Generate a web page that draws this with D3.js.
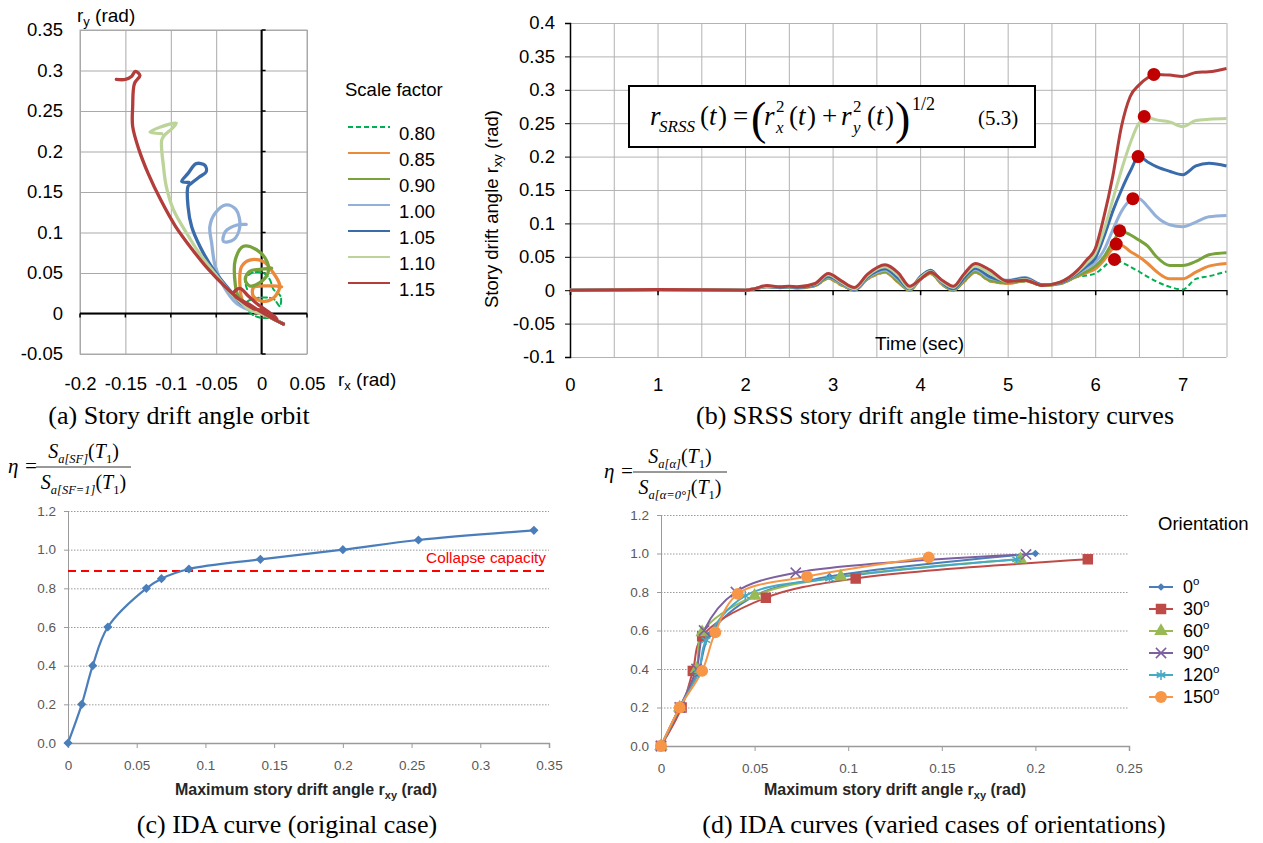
<!DOCTYPE html>
<html lang="en">
<head>
<meta charset="utf-8">
<title>Story drift angle - orbit, SRSS and IDA curves</title>
<script src="https://cdn.jsdelivr.net/npm/d3@7"></script>
<style>
body { margin: 0; background: #fff; }
text { font-family: "Liberation Sans", Arial, sans-serif; }
.serif { font-family: "Liberation Serif", "Times New Roman", serif; }
</style>
</head>
<body>
<script>
// ================= data =================
// (a) orbit, one series per scale factor
var scaleFactors = ["0.80", "0.85", "0.90", "1.00", "1.05", "1.10", "1.15"];
var sfColors = ["#00b050", "#ec8a3c", "#78a23c", "#93b1d8", "#3a6cab", "#bcd499", "#b23d3a"];
var orbitXTicks = [-0.2, -0.15, -0.1, -0.05, 0, 0.05];
var orbitYTicks = [-0.05, 0, 0.05, 0.1, 0.15, 0.2, 0.25, 0.3, 0.35];

var orbit080 = [[0.024,-0.013],[0.01,-0.006],[-0.002,-0.005],[-0.013,0.001],[-0.017,0.013],[-0.006,0.019],
  [0.013,0.018],[0.02,0.009],[0.021,0.021],[0.013,0.03],[0.009,0.042],[0.002,0.05],[-0.011,0.05],
  [-0.018,0.042],[-0.016,0.03]];
var orbit085 = [[0.024,-0.013],[0.008,-0.004],[-0.012,0.005],[-0.02,0.013],[-0.024,0.038],[-0.022,0.058],
  [-0.013,0.066],[0.002,0.064],[0.013,0.05],[0.02,0.034],[0.013,0.019],[0.002,0.015],[-0.009,0.021],
  [-0.009,0.032],[0.002,0.034],[0.013,0.034],[0.022,0.033]];
var orbit090 = [[0.024,-0.013],[0.005,-0.002],[-0.015,0.01],[-0.026,0.022],[-0.029,0.036],[-0.029,0.066],
  [-0.02,0.083],[-0.006,0.079],[0.006,0.064],[0.007,0.05],[-0.002,0.038],[-0.013,0.034],[-0.018,0.042],
  [-0.013,0.052],[0.002,0.055],[0.011,0.056]];
var orbit100 = [[0.024,-0.013],[0.005,-0.002],[-0.015,0.005],[-0.028,0.013],[-0.042,0.034],[-0.051,0.058],
  [-0.055,0.087],[-0.057,0.107],[-0.051,0.124],[-0.039,0.134],[-0.028,0.128],[-0.024,0.107],[-0.031,0.091],
  [-0.042,0.089],[-0.04,0.101],[-0.028,0.109],[-0.017,0.11]];
var orbit105 = [[0.024,-0.013],[0.005,-0.002],[-0.012,0.006],[-0.023,0.013],[-0.036,0.03],[-0.053,0.054],
  [-0.068,0.083],[-0.077,0.107],[-0.081,0.132],[-0.081,0.157],[-0.077,0.161],[-0.068,0.169],[-0.061,0.175],
  [-0.0625,0.183],[-0.072,0.185],[-0.081,0.173],[-0.088,0.163],[-0.08,0.162]];
var orbit110 = [[0.024,-0.013],[0.005,-0.002],[-0.012,0.004],[-0.022,0.013],[-0.035,0.027],[-0.052,0.05],
  [-0.069,0.075],[-0.083,0.1],[-0.097,0.128],[-0.105,0.157],[-0.108,0.181],[-0.11,0.214],[-0.107,0.22],
  [-0.099,0.228],[-0.094,0.235],[-0.112,0.23],[-0.123,0.224],[-0.11,0.222]];
var orbit115 = [[0.024,-0.013],[0.012,-0.006],[-0.002,0.003],[-0.015,0.012],[-0.028,0.02],[-0.031,0.025],
  [-0.024,0.031],[-0.015,0.022],[-0.005,0.012],[0.01,0.0],[0.017,-0.006],[0.005,0.003],[-0.009,0.006],
  [-0.024,0.017],[-0.04,0.033],[-0.059,0.055],[-0.077,0.08],[-0.095,0.108],[-0.111,0.14],[-0.125,0.173],
  [-0.135,0.202],[-0.142,0.231],[-0.142,0.255],[-0.14,0.284],[-0.134,0.294],[-0.139,0.299],[-0.143,0.293],
  [-0.15,0.289],[-0.16,0.289]];
var orbits = [orbit080, orbit085, orbit090, orbit100, orbit105, orbit110, orbit115];

// (b) SRSS time histories
var timeTicks = [0, 1, 2, 3, 4, 5, 6, 7];
var thYTicks = [-0.1, -0.05, 0, 0.05, 0.1, 0.15, 0.2, 0.25, 0.3, 0.35, 0.4];
var timeSec = [0, 1, 2, 2.1, 2.25, 2.4, 2.5, 2.6, 2.8, 2.95, 3.1, 3.25, 3.4, 3.6, 3.75, 3.88, 4.0, 4.12, 4.25,
  4.38, 4.5, 4.63, 4.8, 5.0, 5.2, 5.4, 5.6, 5.8, 5.9, 6.0, 6.1, 6.2, 6.3, 6.4, 6.5, 6.6, 6.7, 6.85, 7.0, 7.15, 7.3, 7.5];
var th080 = [0,0.001,0,0.002,0.005,0.003,0.004,0.003,0.006,0.017,0.007,0,0.016,0.026,0.011,0,0.015,0.024,0.008,0,
  0.012,0.026,0.013,0.01,0.013,0.007,0.009,0.02,0.022,0.025,0.035,0.046,0.042,0.035,0.028,0.02,0.013,0.005,0.001,0.017,0.021,0.028];
var th085 = [0,0.001,0,0.002,0.005,0.004,0.004,0.003,0.007,0.018,0.008,0,0.017,0.027,0.012,0,0.016,0.025,0.009,0,
  0.013,0.027,0.014,0.01,0.014,0.007,0.01,0.021,0.026,0.032,0.045,0.062,0.067,0.058,0.05,0.04,0.028,0.017,0.017,0.027,0.036,0.04];
var th090 = [0,0.001,0,0.002,0.005,0.004,0.004,0.004,0.007,0.019,0.009,0,0.018,0.028,0.013,0,0.017,0.026,0.01,0,
  0.014,0.028,0.015,0.011,0.015,0.007,0.01,0.022,0.028,0.036,0.05,0.072,0.088,0.083,0.075,0.066,0.05,0.037,0.037,0.043,0.053,0.056];
var th100 = [0,0.001,0,0.002,0.005,0.004,0.005,0.004,0.008,0.02,0.01,0.001,0.019,0.03,0.016,0.001,0.019,0.029,0.011,0.001,
  0.017,0.031,0.018,0.015,0.019,0.008,0.011,0.025,0.033,0.042,0.06,0.09,0.118,0.134,0.137,0.125,0.11,0.098,0.095,0.102,0.11,0.112];
var th105 = [0,0.001,0,0.002,0.006,0.004,0.005,0.004,0.008,0.021,0.011,0.001,0.02,0.032,0.018,0.002,0.02,0.03,0.012,0.002,
  0.018,0.033,0.02,0.014,0.018,0.008,0.011,0.026,0.036,0.048,0.08,0.118,0.15,0.178,0.2,0.192,0.185,0.178,0.173,0.186,0.19,0.186];
var th110 = [0,0.001,0,0.002,0.006,0.005,0.005,0.005,0.009,0.023,0.012,0.002,0.022,0.035,0.022,0.003,0.018,0.028,0.013,0.004,
  0.022,0.036,0.025,0.013,0.016,0.007,0.012,0.028,0.04,0.055,0.09,0.135,0.18,0.22,0.25,0.258,0.255,0.252,0.245,0.254,0.256,0.257];
var th115 = [0,0.001,0,0.002,0.007,0.005,0.006,0.005,0.01,0.025,0.014,0.004,0.024,0.038,0.026,0.006,0.016,0.027,0.015,0.006,
  0.024,0.04,0.03,0.013,0.015,0.007,0.012,0.03,0.045,0.062,0.11,0.17,0.245,0.29,0.307,0.318,0.323,0.322,0.32,0.326,0.327,0.332];
var thSeries = [th080, th085, th090, th100, th105, th110, th115];
var peakTime = [6.22, 6.24, 6.28, 6.43, 6.49, 6.56, 6.67];
var peakDrift = [0.046, 0.069, 0.089, 0.137, 0.2, 0.26, 0.323];

// (c) IDA, original case
var idaXTicks = [0, 0.05, 0.1, 0.15, 0.2, 0.25, 0.3, 0.35];
var etaTicks = [0, 0.2, 0.4, 0.6, 0.8, 1.0, 1.2];
var idaDrift = [0, 0.01, 0.018, 0.029, 0.057, 0.068, 0.088, 0.14, 0.2, 0.255, 0.339];
var idaEta = [0, 0.2, 0.4, 0.6, 0.8, 0.85, 0.9, 0.95, 1.0, 1.05, 1.1];
var collapseEta = 0.89;

// (d) IDA, orientations
var orientations = ["0", "30", "60", "90", "120", "150"];
var orientColors = ["#4a7ebb", "#be4b48", "#98b954", "#7d60a0", "#46aac5", "#f79646"];
var orientXTicks = [0, 0.05, 0.1, 0.15, 0.2, 0.25];
var drift000 = [0, 0.01, 0.02, 0.026, 0.05, 0.09, 0.2];
var drift030 = [0, 0.011, 0.017, 0.022, 0.056, 0.104, 0.228];
var drift060 = [0, 0.01, 0.019, 0.022, 0.05, 0.096, 0.192];
var drift090 = [0, 0.01, 0.019, 0.023, 0.04, 0.072, 0.195];
var drift120 = [0, 0.01, 0.02, 0.024, 0.045, 0.09, 0.19];
var drift150 = [0, 0.01, 0.022, 0.029, 0.041, 0.078, 0.143];
var eta000 = [0, 0.2, 0.39, 0.58, 0.78, 0.88, 1.0];
var eta030 = [0, 0.2, 0.39, 0.57, 0.77, 0.87, 0.97];
var eta060 = [0, 0.2, 0.4, 0.59, 0.78, 0.88, 0.97];
var eta090 = [0, 0.2, 0.4, 0.6, 0.8, 0.9, 0.995];
var eta120 = [0, 0.2, 0.38, 0.55, 0.78, 0.87, 0.97];
var eta150 = [0, 0.2, 0.39, 0.59, 0.79, 0.88, 0.98];
var orientDrift = [drift000, drift030, drift060, drift090, drift120, drift150];
var orientEtaSeries = [eta000, eta030, eta060, eta090, eta120, eta150];

// ================= drawing =================
var svg = d3.select("body").append("svg").attr("width", 1263).attr("height", 843);
var fmt2 = function(d) { return String(+d.toFixed(2)); };

function styleAxisText(g, size, color) {
  g.attr("font-family", null).attr("font-size", null);
  g.selectAll("text").attr("font-size", size).attr("fill", color);
}

// ----- (a) orbit -----
var ax = d3.scaleLinear().domain([-0.2, 0.05]).range([80, 307]);
var ay = d3.scaleLinear().domain([-0.05, 0.35]).range([354, 30]);
var gA = svg.append("g");

gA.append("g").attr("transform", "translate(0,354)")
  .call(d3.axisBottom(ax).tickValues(orbitXTicks).tickSize(-324).tickFormat(""))
  .call(function(g) { g.select(".domain").remove(); g.selectAll("line").attr("stroke", "#a9a9a9"); });
gA.append("g").attr("transform", "translate(80,0)")
  .call(d3.axisLeft(ay).tickValues(orbitYTicks).tickSize(-227).tickFormat(""))
  .call(function(g) { g.select(".domain").remove(); g.selectAll("line").attr("stroke", "#a9a9a9"); });
gA.append("rect").attr("x", 80).attr("y", 30).attr("width", 227).attr("height", 324)
  .attr("fill", "none").attr("stroke", "#a9a9a9");

gA.append("g").attr("transform", "translate(80,0)")
  .call(d3.axisLeft(ay).tickValues(orbitYTicks).tickSize(0).tickPadding(17).tickFormat(fmt2))
  .call(function(g) { g.select(".domain").remove(); styleAxisText(g, 18.5, "#000"); });
gA.append("g").attr("transform", "translate(0,354)")
  .call(d3.axisBottom(ax).tickValues(orbitXTicks).tickSize(0).tickPadding(23).tickFormat(fmt2))
  .call(function(g) { g.select(".domain").remove(); styleAxisText(g, 18.5, "#000"); });

// zero axes
gA.append("line").attr("x1", ax(0)).attr("x2", ax(0)).attr("y1", 30).attr("y2", 354)
  .attr("stroke", "#000").attr("stroke-width", 2);
gA.append("line").attr("x1", 80).attr("x2", 307).attr("y1", ay(0)).attr("y2", ay(0))
  .attr("stroke", "#000").attr("stroke-width", 2);
gA.append("g").selectAll("line").data(orbitYTicks).enter().append("line")
  .attr("x1", ax(0)).attr("x2", ax(0) + 4).attr("y1", function(d) { return ay(d); })
  .attr("y2", function(d) { return ay(d); }).attr("stroke", "#000").attr("stroke-width", 1.5);
gA.append("g").selectAll("line").data(orbitXTicks).enter().append("line")
  .attr("x1", function(d) { return ax(d); }).attr("x2", function(d) { return ax(d); })
  .attr("y1", ay(0)).attr("y2", ay(0) + 4).attr("stroke", "#000").attr("stroke-width", 1.5);

var orbitLine = d3.line().x(function(d) { return ax(d[0]); }).y(function(d) { return ay(d[1]); })
  .curve(d3.curveCatmullRom.alpha(0.5));
gA.append("g").selectAll("path").data(orbits).enter().append("path")
  .attr("d", orbitLine).attr("fill", "none")
  .attr("stroke", function(d, i) { return sfColors[i]; })
  .attr("stroke-width", function(d, i) { return i === 0 ? 2 : 3.3; })
  .attr("stroke-dasharray", function(d, i) { return i === 0 ? "5,3" : null; })
  .attr("stroke-linejoin", "round").attr("stroke-linecap", "round");

var ryLab = gA.append("text").attr("x", 77).attr("y", 22).attr("font-size", 19).text("r");
ryLab.append("tspan").attr("font-size", 13).attr("dy", 4).text("y");
ryLab.append("tspan").attr("dy", -4).text(" (rad)");
var rxLab = gA.append("text").attr("x", 338).attr("y", 386).attr("font-size", 19).text("r");
rxLab.append("tspan").attr("font-size", 13).attr("dy", 4).text("x");
rxLab.append("tspan").attr("dy", -4).text(" (rad)");

// legend (a)
gA.append("text").attr("x", 345).attr("y", 96).attr("font-size", 18.5).text("Scale factor");
var legA = gA.append("g").selectAll("g").data(scaleFactors).enter().append("g")
  .attr("transform", function(d, i) { return "translate(0," + (127 + i * 26) + ")"; });
legA.append("line").attr("x1", 348).attr("x2", 390)
  .attr("stroke", function(d, i) { return sfColors[i]; }).attr("stroke-width", 2)
  .attr("stroke-dasharray", function(d, i) { return i === 0 ? "5,3" : null; });
legA.append("text").attr("x", 399).attr("y", 13).attr("font-size", 18.5).text(function(d) { return d; });

gA.append("text").attr("class", "serif").attr("x", 179).attr("y", 424).attr("font-size", 26)
  .attr("text-anchor", "middle").text("(a) Story drift angle orbit");

// ----- (b) SRSS time history -----
var bx = d3.scaleLinear().domain([0, 7.5]).range([570, 1226.5]);
var by = d3.scaleLinear().domain([-0.1, 0.4]).range([357, 23]);
var gB = svg.append("g");
var halfSec = d3.range(0, 7.51, 0.5);

gB.append("g").attr("transform", "translate(0,357)")
  .call(d3.axisBottom(bx).tickValues(halfSec).tickSize(-334).tickFormat(""))
  .call(function(g) { g.select(".domain").remove(); g.selectAll("line").attr("stroke", "#b3b3b3"); });
gB.append("g").attr("transform", "translate(570,0)")
  .call(d3.axisLeft(by).tickValues(thYTicks).tickSize(-656.5).tickFormat(""))
  .call(function(g) { g.select(".domain").remove(); g.selectAll("line").attr("stroke", "#b3b3b3"); });

gB.append("g").attr("transform", "translate(570,0)")
  .call(d3.axisLeft(by).tickValues(thYTicks).tickSize(5).tickPadding(10).tickFormat(fmt2))
  .call(function(g) {
    g.select(".domain").attr("stroke", "#000").attr("stroke-width", 1.5);
    g.selectAll("line").attr("stroke", "#000");
    styleAxisText(g, 18.5, "#000");
  });
gB.append("g").attr("transform", "translate(0," + by(0) + ")")
  .call(d3.axisBottom(bx).tickValues(timeTicks).tickSize(5).tickFormat(""))
  .call(function(g) {
    g.select(".domain").attr("stroke", "#000").attr("stroke-width", 1.2);
    g.selectAll("line").attr("stroke", "#000").attr("stroke-width", 1.5);
  });
gB.append("g").attr("transform", "translate(0,357)")
  .call(d3.axisBottom(bx).tickValues(timeTicks).tickSize(0).tickPadding(21).tickFormat(d3.format("d")))
  .call(function(g) { g.select(".domain").remove(); styleAxisText(g, 18.5, "#000"); });

var thLine = d3.line().x(function(d, i) { return bx(timeSec[i]); }).y(function(d) { return by(d); })
  .curve(d3.curveMonotoneX);
gB.append("g").selectAll("path").data(thSeries).enter().append("path")
  .attr("d", thLine).attr("fill", "none")
  .attr("stroke", function(d, i) { return sfColors[i]; })
  .attr("stroke-width", function(d, i) { return i === 0 ? 2 : 3; })
  .attr("stroke-dasharray", function(d, i) { return i === 0 ? "5,3" : null; });
gB.append("g").selectAll("circle").data(peakTime).enter().append("circle")
  .attr("cx", function(d) { return bx(d); })
  .attr("cy", function(d, i) { return by(peakDrift[i]); })
  .attr("r", 6.5).attr("fill", "#c00000");

var yTitleB = gB.append("text").attr("transform", "translate(498,209) rotate(-90)")
  .attr("text-anchor", "middle").attr("font-size", 18.5).text("Story drift angle r");
yTitleB.append("tspan").attr("font-size", 13).attr("dy", 4).text("xy");
yTitleB.append("tspan").attr("dy", -4).text(" (rad)");
gB.append("text").attr("x", 875).attr("y", 350).attr("font-size", 19).text("Time (sec)");

// equation box
gB.append("rect").attr("x", 629).attr("y", 86).attr("width", 406).attr("height", 61)
  .attr("fill", "#fff").attr("stroke", "#000").attr("stroke-width", 2);
var eqParts = [
  ["r", 650, 125, 27, true], ["SRSS", 659, 132, 17, true], ["(", 700, 125, 27, false], ["t", 709, 125, 27, true],
  [")", 718, 125, 27, false], ["=", 733, 125, 27, false], ["(", 751, 134, 46, false], ["r", 764, 125, 27, true],
  ["2", 776, 112, 17, false], ["x", 776, 133, 17, true], ["(", 789, 125, 27, false], ["t", 798, 125, 27, true],
  [")", 807, 125, 27, false], ["+", 822, 125, 27, false], ["r", 841, 125, 27, true], ["2", 853, 112, 17, false],
  ["y", 853, 133, 17, true], ["(", 867, 125, 27, false], ["t", 876, 125, 27, true], [")", 885, 125, 27, false],
  [")", 895, 134, 46, false], ["1/2", 912, 110, 18, false], ["(5.3)", 978, 125, 21, false]
];
gB.append("g").selectAll("text").data(eqParts).enter().append("text")
  .attr("class", "serif")
  .attr("x", function(d) { return d[1]; }).attr("y", function(d) { return d[2]; })
  .attr("font-size", function(d) { return d[3]; })
  .attr("font-style", function(d) { return d[4] ? "italic" : "normal"; })
  .text(function(d) { return d[0]; });

gB.append("text").attr("class", "serif").attr("x", 935).attr("y", 424).attr("font-size", 26)
  .attr("text-anchor", "middle").text("(b) SRSS story drift angle time-history curves");

// ----- shared Excel-style IDA frame -----
function idaFrame(g, xs, ys, xTicks) {
  var x0 = xs.range()[0], x1 = xs.range()[1], y0 = ys.range()[0];
  g.append("g").attr("transform", "translate(" + x0 + ",0)")
    .call(d3.axisLeft(ys).tickValues(etaTicks).tickSize(-(x1 - x0)).tickFormat(""))
    .call(function(s) {
      s.select(".domain").remove();
      s.selectAll("line").attr("stroke", "#9a9a9a").attr("stroke-dasharray", "1.5,1.5");
    });
  g.append("g").attr("transform", "translate(" + x0 + ",0)")
    .call(d3.axisLeft(ys).tickValues(etaTicks).tickSize(4).tickPadding(8).tickFormat(d3.format(".1f")))
    .call(function(s) {
      s.select(".domain").attr("stroke", "#9a9a9a");
      s.selectAll("line").attr("stroke", "#9a9a9a");
      styleAxisText(s, 13.5, "#595959");
    });
  g.append("g").attr("transform", "translate(0," + y0 + ")")
    .call(d3.axisBottom(xs).tickValues(xTicks).tickSize(5).tickPadding(12).tickFormat(fmt2))
    .call(function(s) {
      s.select(".domain").attr("stroke", "#9a9a9a").attr("stroke-width", 1.5);
      s.selectAll("line").attr("stroke", "#9a9a9a");
      styleAxisText(s, 13.5, "#595959");
    });
}
function xTitle(g, cx) {
  var t = g.append("text").attr("x", cx).attr("y", 795).attr("text-anchor", "middle")
    .attr("font-size", 16).attr("font-weight", "bold").attr("fill", "#262626").text("Maximum story drift angle r");
  t.append("tspan").attr("font-size", 11).attr("dy", 4).text("xy");
  t.append("tspan").attr("dy", -4).text(" (rad)");
}
function etaFormula(g, etaX, etaY, lineX1, lineX2, lineY, num, den) {
  g.append("text").attr("class", "serif").attr("x", etaX).attr("y", etaY).attr("font-size", 21)
    .attr("font-style", "italic").text("η =");
  g.append("line").attr("x1", lineX1).attr("x2", lineX2).attr("y1", lineY).attr("y2", lineY)
    .attr("stroke", "#333").attr("stroke-width", 1);
  [[num, lineY - 9], [den, lineY + 22]].forEach(function(p) {
    var t = g.append("text").attr("class", "serif").attr("x", (lineX1 + lineX2) / 2).attr("y", p[1])
      .attr("text-anchor", "middle").attr("font-size", 20).attr("font-style", "italic").text("S");
    t.append("tspan").attr("font-size", 12.5).attr("dy", 5).text(p[0]);
    t.append("tspan").attr("dy", -5).attr("font-style", "normal").text("(");
    t.append("tspan").text("T");
    t.append("tspan").attr("font-size", 12.5).attr("dy", 5).attr("font-style", "normal").text("1");
    t.append("tspan").attr("dy", -5).attr("font-style", "normal").text(")");
  });
}

// ----- (c) IDA original -----
var cx = d3.scaleLinear().domain([0, 0.35]).range([68, 549]);
var cy = d3.scaleLinear().domain([0, 1.2]).range([743, 511]);
var gC = svg.append("g");
idaFrame(gC, cx, cy, idaXTicks);
gC.append("line").attr("x1", 68).attr("x2", 549).attr("y1", cy(collapseEta)).attr("y2", cy(collapseEta))
  .attr("stroke", "#ff0000").attr("stroke-width", 2).attr("stroke-dasharray", "8,5");
gC.append("text").attr("x", 546).attr("y", 563).attr("text-anchor", "end").attr("font-size", 15.3)
  .attr("fill", "#ff0000").text("Collapse capacity");
var cLine = d3.line().x(function(d, i) { return cx(idaDrift[i]); }).y(function(d) { return cy(d); })
  .curve(d3.curveCatmullRom.alpha(0.5));
gC.append("path").datum(idaEta).attr("d", cLine).attr("fill", "none")
  .attr("stroke", "#4a7ebb").attr("stroke-width", 2.2);
gC.append("g").selectAll("path").data(idaEta).enter().append("path")
  .attr("d", d3.symbol().type(d3.symbolSquare).size(42))
  .attr("transform", function(d, i) { return "translate(" + cx(idaDrift[i]) + "," + cy(d) + ") rotate(45)"; })
  .attr("fill", "#4a7ebb");
etaFormula(gC, 8, 473, 36, 131, 467, "a[SF]", "a[SF=1]");
xTitle(gC, 306);
gC.append("text").attr("class", "serif").attr("x", 287).attr("y", 833).attr("font-size", 26)
  .attr("text-anchor", "middle").text("(c) IDA curve (original case)");

// ----- (d) IDA orientations -----
var dx = d3.scaleLinear().domain([0, 0.25]).range([661, 1129]);
var dy = d3.scaleLinear().domain([0, 1.2]).range([746, 515]);
var gD = svg.append("g");
idaFrame(gD, dx, dy, orientXTicks);

var symTypes = [d3.symbolSquare, d3.symbolSquare, d3.symbolTriangle, d3.symbolTimes, d3.symbolAsterisk, d3.symbolCircle];
var symSizes = [30, 110, 80, 70, 70, 110];
function drawMarker(sel, i) {
  var stroked = (i === 3 || i === 4);
  sel.attr("d", d3.symbol().type(symTypes[i]).size(symSizes[i]))
    .attr("fill", stroked ? "none" : orientColors[i])
    .attr("stroke", stroked ? orientColors[i] : "none")
    .attr("stroke-width", 1.5);
}
orientEtaSeries.forEach(function(etas, k) {
  var line = d3.line().x(function(d, i) { return dx(orientDrift[k][i]); }).y(function(d) { return dy(d); })
    .curve(d3.curveCatmullRom.alpha(0.5));
  gD.append("path").datum(etas).attr("d", line).attr("fill", "none")
    .attr("stroke", orientColors[k]).attr("stroke-width", 2);
});
orientEtaSeries.forEach(function(etas, k) {
  gD.append("g").selectAll("path").data(etas).enter().append("path")
    .attr("transform", function(d, i) {
      return "translate(" + dx(orientDrift[k][i]) + "," + dy(d) + ")" + (k === 0 ? " rotate(45)" : "");
    })
    .each(function() { drawMarker(d3.select(this), k); });
});

gD.append("text").attr("x", 1158).attr("y", 530).attr("font-size", 18.5).text("Orientation");
var legD = gD.append("g").selectAll("g").data(orientations).enter().append("g")
  .attr("transform", function(d, i) { return "translate(0," + (587 + i * 22) + ")"; });
legD.append("line").attr("x1", 1149).attr("x2", 1173)
  .attr("stroke", function(d, i) { return orientColors[i]; }).attr("stroke-width", 2);
legD.append("path").attr("transform", function(d, i) { return "translate(1161,0)" + (i === 0 ? " rotate(45)" : ""); })
  .each(function(d, i) { drawMarker(d3.select(this), i); });
var legDText = legD.append("text").attr("x", 1183).attr("y", 6).attr("font-size", 18)
  .text(function(d) { return d; });
legDText.append("tspan").attr("font-size", 11.5).attr("dy", -8).text("o");

etaFormula(gD, 604, 478, 633, 727, 472, "a[α]", "a[α=0°]");
xTitle(gD, 895);
gD.append("text").attr("class", "serif").attr("x", 934).attr("y", 833).attr("font-size", 26)
  .attr("text-anchor", "middle").text("(d) IDA curves (varied cases of orientations)");
</script>
</body>
</html>
